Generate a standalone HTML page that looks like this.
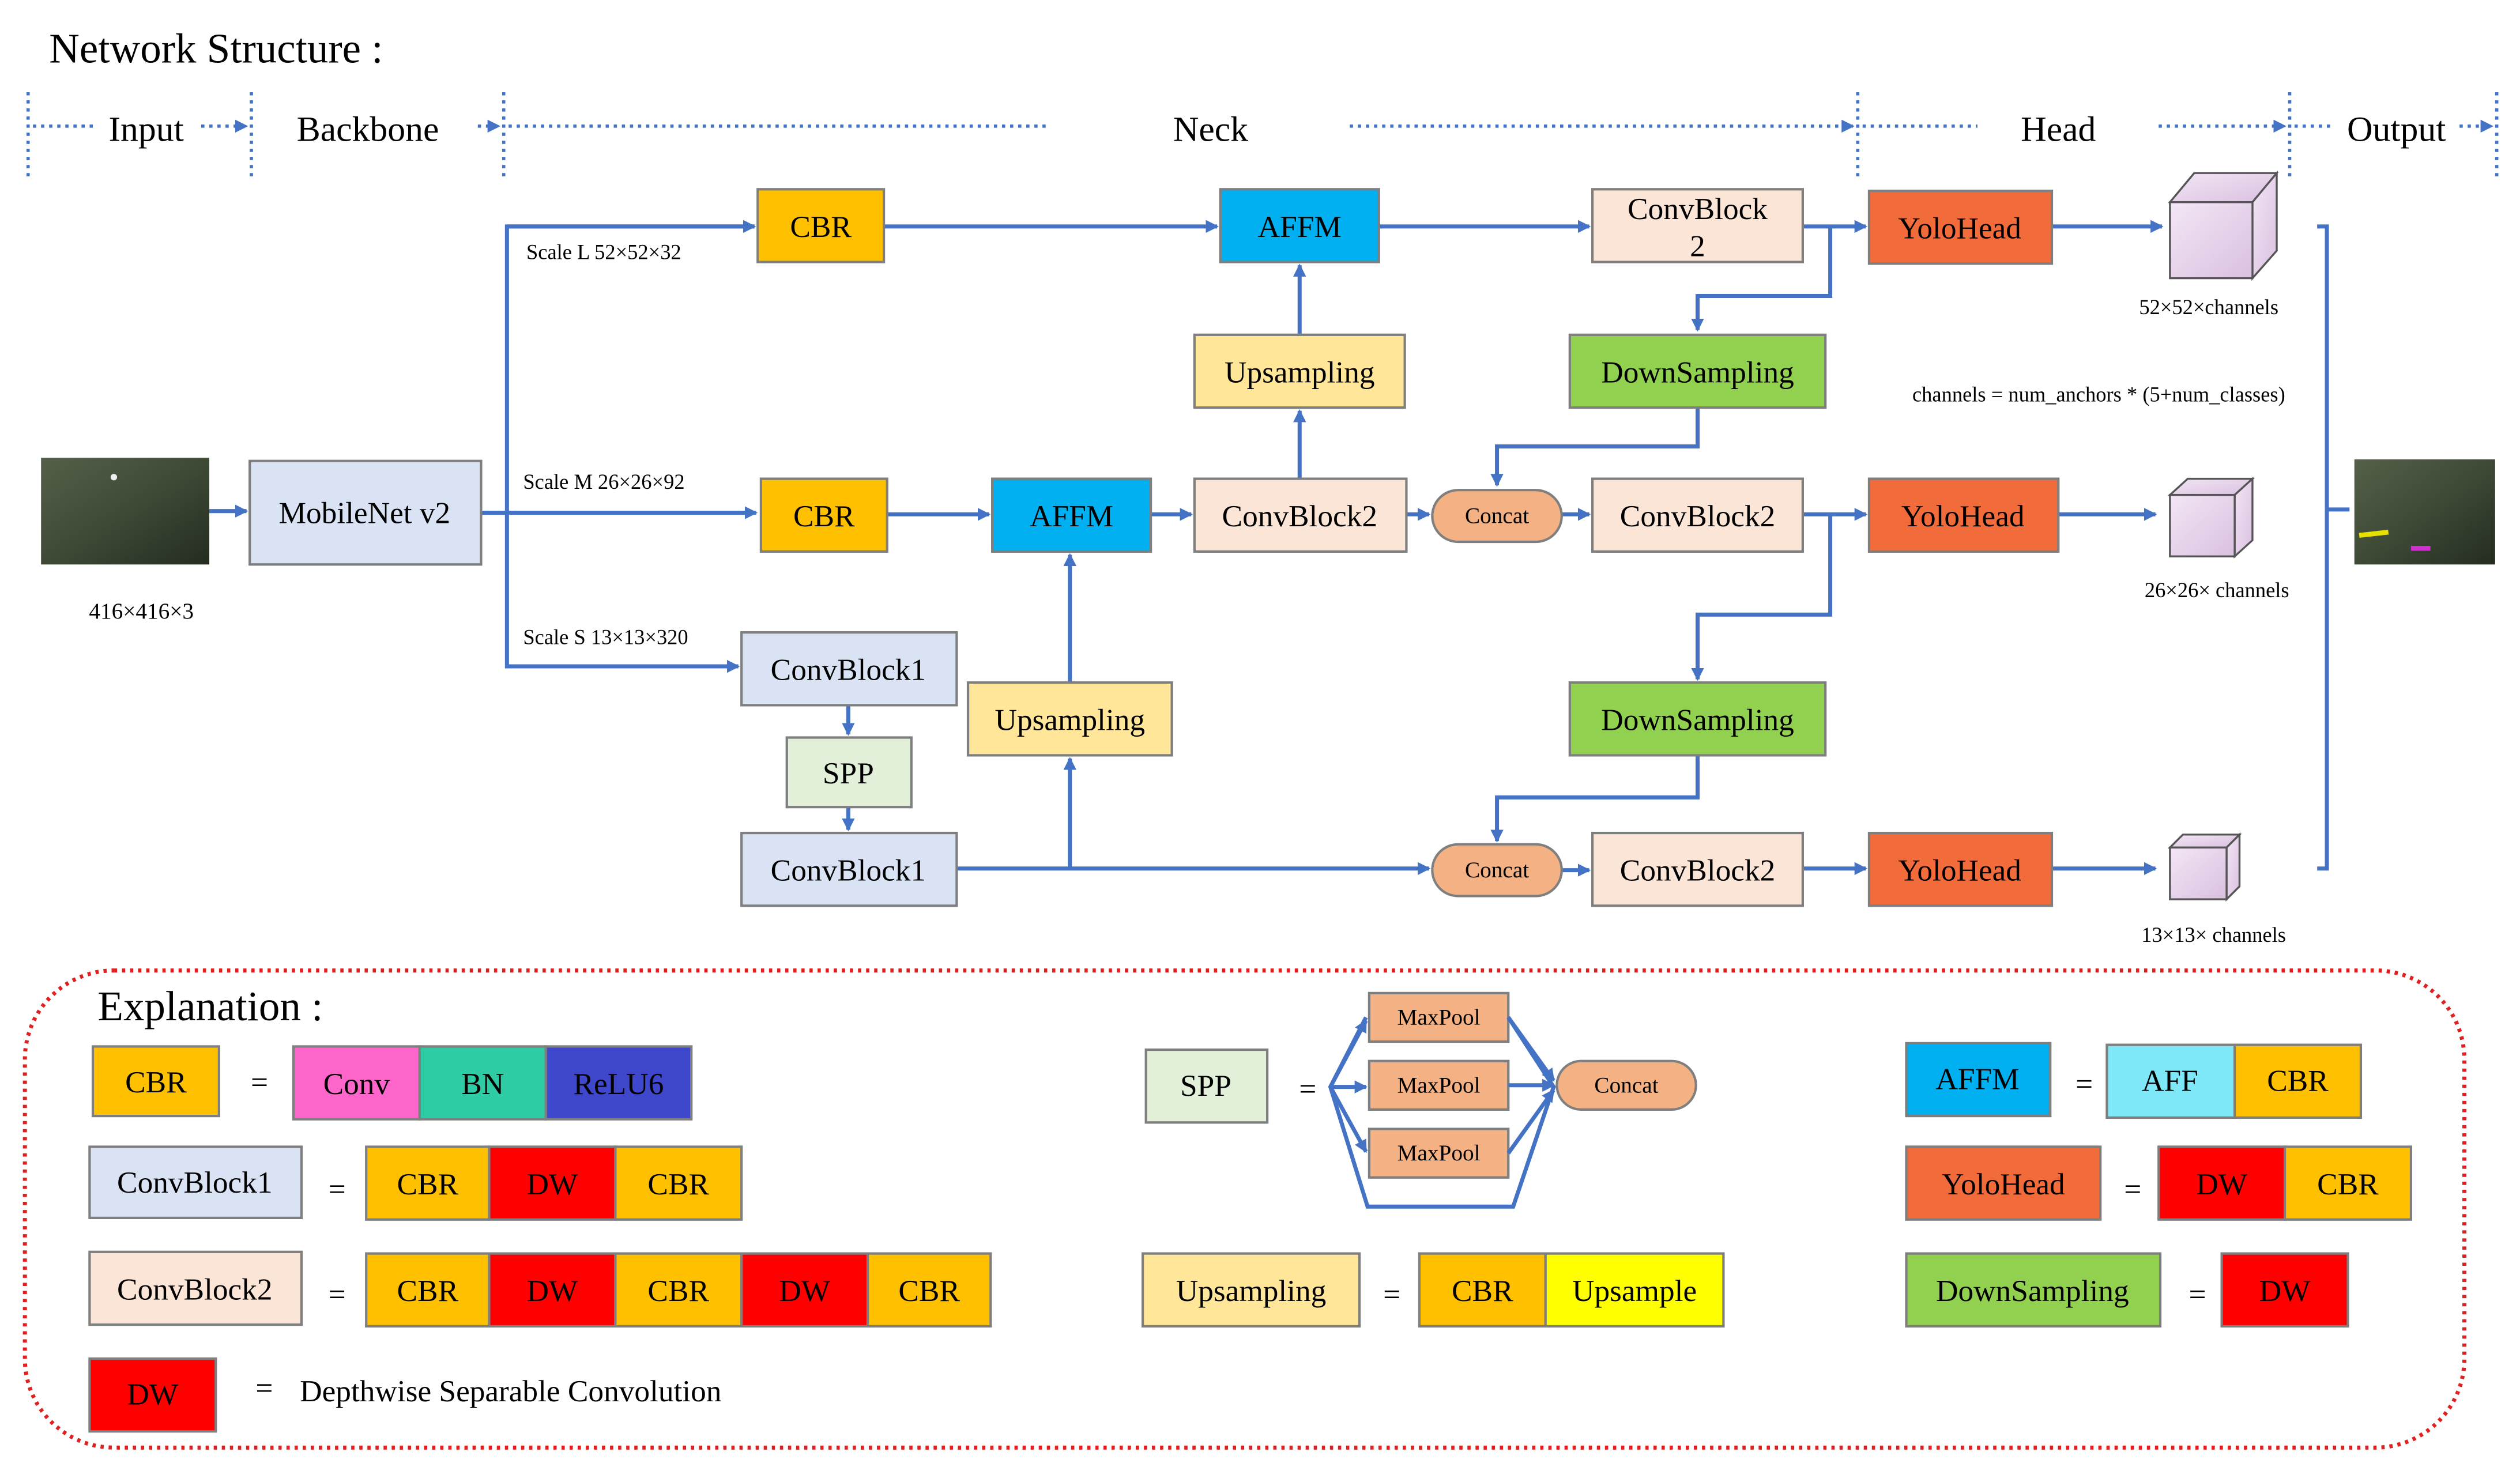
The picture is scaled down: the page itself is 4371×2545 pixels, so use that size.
<!DOCTYPE html>
<html><head><meta charset="utf-8">
<style>
html,body{margin:0;padding:0;background:#fff;}
svg{display:block;}
text{font-family:"Liberation Serif",serif;}
</style></head>
<body>
<svg width="4371" height="2545" viewBox="0 0 1557 907" xmlns="http://www.w3.org/2000/svg">
<defs>
<marker id="a" markerWidth="8" markerHeight="8" refX="7" refY="4" orient="auto" markerUnits="userSpaceOnUse"><path d="M0,0 L8,4 L0,8 z" fill="#4472c4"/></marker>
<linearGradient id="cube" x1="0" y1="0" x2="1" y2="1"><stop offset="0" stop-color="#f3e6f5"/><stop offset="1" stop-color="#d9c0e0"/></linearGradient>
<linearGradient id="img" x1="0" y1="0" x2="1" y2="1"><stop offset="0" stop-color="#55604a"/><stop offset="0.5" stop-color="#3e4a36"/><stop offset="1" stop-color="#242c20"/></linearGradient>
</defs>
<g font-size="19" text-anchor="middle" dominant-baseline="central">
<text x="30" y="30" font-size="26" text-anchor="start">Network Structure :</text>
<g stroke="#4472c4" stroke-width="2" stroke-dasharray="2,3" fill="none">
<line x1="17" y1="57" x2="17" y2="110"/><line x1="155" y1="57" x2="155" y2="110"/>
<line x1="311" y1="57" x2="311" y2="110"/><line x1="1148" y1="57" x2="1148" y2="110"/>
<line x1="1415" y1="57" x2="1415" y2="110"/><line x1="1543" y1="57" x2="1543" y2="110"/>
<line x1="20" y1="78" x2="58" y2="78"/><line x1="124" y1="78" x2="152" y2="78" marker-end="url(#a)"/>
<line x1="295" y1="78" x2="308" y2="78" marker-end="url(#a)"/>
<line x1="314" y1="78" x2="648" y2="78"/><line x1="834" y1="78" x2="1145" y2="78" marker-end="url(#a)"/>
<line x1="1151" y1="78" x2="1222" y2="78"/><line x1="1334" y1="78" x2="1412" y2="78" marker-end="url(#a)"/>
<line x1="1418" y1="78" x2="1442" y2="78"/><line x1="1520" y1="78" x2="1540" y2="78" marker-end="url(#a)"/>
</g>
<text x="90" y="80" font-size="22">Input</text><text x="227" y="80" font-size="22">Backbone</text>
<text x="748" y="80" font-size="22">Neck</text><text x="1272" y="80" font-size="22">Head</text><text x="1481" y="80" font-size="22">Output</text>

<g stroke="#4472c4" stroke-width="2.5" fill="none">
<line x1="129" y1="316" x2="152" y2="316" marker-end="url(#a)"/>
<line x1="297" y1="317" x2="467" y2="317" marker-end="url(#a)"/>
<polyline points="466,140 313,140 313,412 456,412" />
<line x1="313" y1="140" x2="466" y2="140" marker-end="url(#a)"/>
<line x1="313" y1="412" x2="456" y2="412" marker-end="url(#a)"/>
<line x1="546" y1="140" x2="752" y2="140" marker-end="url(#a)"/>
<line x1="852" y1="140" x2="982" y2="140" marker-end="url(#a)"/>
<line x1="803" y1="207" x2="803" y2="164" marker-end="url(#a)"/>
<line x1="803" y1="296" x2="803" y2="254" marker-end="url(#a)"/>
<line x1="548" y1="318" x2="611" y2="318" marker-end="url(#a)"/>
<line x1="711" y1="318" x2="736" y2="318" marker-end="url(#a)"/>
<line x1="869" y1="318" x2="883" y2="318" marker-end="url(#a)"/>
<line x1="965" y1="318" x2="982" y2="318" marker-end="url(#a)"/>
<line x1="661" y1="422" x2="661" y2="343" marker-end="url(#a)"/>
<line x1="524" y1="436" x2="524" y2="454" marker-end="url(#a)"/>
<line x1="524" y1="499" x2="524" y2="513" marker-end="url(#a)"/>
<line x1="591" y1="537" x2="883" y2="537" marker-end="url(#a)"/>
<line x1="661" y1="537" x2="661" y2="469" marker-end="url(#a)"/>
<line x1="965" y1="538" x2="982" y2="538" marker-end="url(#a)"/>
<line x1="1114" y1="140" x2="1153" y2="140" marker-end="url(#a)"/>
<polyline points="1131,140 1131,183 1049,183 1049,204" marker-end="url(#a)"/>
<polyline points="1049,252 1049,276 925,276 925,300" marker-end="url(#a)"/>
<line x1="1114" y1="318" x2="1153" y2="318" marker-end="url(#a)"/>
<polyline points="1131,318 1131,380 1049,380 1049,420" marker-end="url(#a)"/>
<polyline points="1049,467 1049,493 925,493 925,520" marker-end="url(#a)"/>
<line x1="1114" y1="537" x2="1153" y2="537" marker-end="url(#a)"/>
<line x1="1268" y1="140" x2="1336" y2="140" marker-end="url(#a)"/>
<line x1="1272" y1="318" x2="1332" y2="318" marker-end="url(#a)"/>
<line x1="1268" y1="537" x2="1332" y2="537" marker-end="url(#a)"/>
<polyline points="1432,140 1438,140 1438,537 1432,537"/>
<line x1="1438" y1="315" x2="1452" y2="315"/>
</g>

<rect x="25" y="283" width="104" height="66" fill="url(#img)"/>
<circle cx="70" cy="295" r="2" fill="#eee"/>
<rect x="1455" y="284" width="87" height="65" fill="url(#img)"/>
<line x1="1458" y1="331" x2="1476" y2="329" stroke="#e8e000" stroke-width="3"/>
<line x1="1490" y1="339" x2="1502" y2="339" stroke="#d030d0" stroke-width="3"/>
<text x="87" y="378" font-size="14">416×416×3</text>

<g stroke="#7f7f7f" stroke-width="1.5">
<rect x="154" y="285" width="143" height="64" fill="#dae3f3"/>
<rect x="468" y="117" width="78" height="45" fill="#ffc000"/>
<rect x="470" y="296" width="78" height="45" fill="#ffc000"/>
<rect x="458" y="391" width="133" height="45" fill="#dae3f3"/>
<rect x="486" y="456" width="77" height="43" fill="#e2f0d9"/>
<rect x="458" y="515" width="133" height="45" fill="#dae3f3"/>
<rect x="754" y="117" width="98" height="45" fill="#00b0f0"/>
<rect x="613" y="296" width="98" height="45" fill="#00b0f0"/>
<rect x="738" y="207" width="130" height="45" fill="#ffe699"/>
<rect x="598" y="422" width="126" height="45" fill="#ffe699"/>
<rect x="738" y="296" width="131" height="45" fill="#fbe5d6"/>
<rect x="885" y="303" width="80" height="32" rx="16" fill="#f4b183"/>
<rect x="984" y="117" width="130" height="45" fill="#fbe5d6"/>
<rect x="970" y="207" width="158" height="45" fill="#92d050"/>
<rect x="984" y="296" width="130" height="45" fill="#fbe5d6"/>
<rect x="970" y="422" width="158" height="45" fill="#92d050"/>
<rect x="885" y="522" width="80" height="32" rx="16" fill="#f4b183"/>
<rect x="984" y="515" width="130" height="45" fill="#fbe5d6"/>
<rect x="1155" y="118" width="113" height="45" fill="#f26b3a"/>
<rect x="1155" y="296" width="117" height="45" fill="#f26b3a"/>
<rect x="1155" y="515" width="113" height="45" fill="#f26b3a"/>
</g>
<text x="225" y="317">MobileNet v2</text>
<text x="507" y="140">CBR</text><text x="509" y="319">CBR</text>
<text x="524" y="414">ConvBlock1</text><text x="524" y="478">SPP</text><text x="524" y="538">ConvBlock1</text>
<text x="803" y="140">AFFM</text><text x="662" y="319">AFFM</text>
<text x="803" y="230">Upsampling</text><text x="661" y="445">Upsampling</text>
<text x="803" y="319">ConvBlock2</text>
<text x="925" y="319" font-size="14">Concat</text><text x="925" y="538" font-size="14">Concat</text>
<text x="1049" y="129">ConvBlock</text><text x="1049" y="152">2</text>
<text x="1049" y="230">DownSampling</text><text x="1049" y="319">ConvBlock2</text>
<text x="1049" y="445">DownSampling</text><text x="1049" y="538">ConvBlock2</text>
<text x="1211" y="141">YoloHead</text><text x="1213" y="319">YoloHead</text><text x="1211" y="538">YoloHead</text>
<g font-size="13" text-anchor="start">
<text x="325" y="156">Scale L 52×52×32</text>
<text x="323" y="298">Scale M 26×26×92</text>
<text x="323" y="394">Scale S 13×13×320</text>
</g>
<g stroke="#555" stroke-width="1.2" fill="url(#cube)">
<polygon points="1341,125 1356,107 1407,107 1392,125"/><polygon points="1392,125 1407,107 1407,155 1392,172"/>
<rect x="1341" y="125" width="51" height="47"/>
<polygon points="1341,306 1352,296 1392,296 1381,306"/><polygon points="1381,306 1392,296 1392,334 1381,344"/>
<rect x="1341" y="306" width="40" height="38"/>
<polygon points="1341,524 1349,516 1384,516 1376,524"/><polygon points="1376,524 1384,516 1384,548 1376,556"/>
<rect x="1341" y="524" width="35" height="32"/>
</g>
<g font-size="13">
<text x="1365" y="190">52×52×channels</text>
<text x="1297" y="244">channels = num_anchors * (5+num_classes)</text>
<text x="1370" y="365">26×26× channels</text>
<text x="1368" y="578">13×13× channels</text>
</g>

<rect x="15" y="600" width="1508" height="295" rx="55" fill="none" stroke="#e02020" stroke-width="2.5" stroke-dasharray="2,3"/>
<text x="60" y="622" font-size="26" text-anchor="start">Explanation :</text>
<g stroke="#7f7f7f" stroke-width="1.5">
<rect x="57" y="647" width="78" height="43" fill="#ffc000"/>
<rect x="181" y="647" width="78" height="45" fill="#ff66cc"/>
<rect x="259" y="647" width="78" height="45" fill="#2ecba5"/>
<rect x="337" y="647" width="90" height="45" fill="#3f48cc"/>
<rect x="55" y="709" width="131" height="44" fill="#dae3f3"/>
<rect x="226" y="709" width="76" height="45" fill="#ffc000"/>
<rect x="302" y="709" width="78" height="45" fill="#ff0000"/>
<rect x="380" y="709" width="78" height="45" fill="#ffc000"/>
<rect x="55" y="774" width="131" height="45" fill="#fbe5d6"/>
<rect x="226" y="775" width="76" height="45" fill="#ffc000"/>
<rect x="302" y="775" width="78" height="45" fill="#ff0000"/>
<rect x="380" y="775" width="78" height="45" fill="#ffc000"/>
<rect x="458" y="775" width="78" height="45" fill="#ff0000"/>
<rect x="536" y="775" width="76" height="45" fill="#ffc000"/>
<rect x="55" y="840" width="78" height="45" fill="#ff0000"/>
<rect x="708" y="649" width="75" height="45" fill="#e2f0d9"/>
<rect x="846" y="614" width="86" height="30" fill="#f4b183"/>
<rect x="846" y="656" width="86" height="30" fill="#f4b183"/>
<rect x="846" y="698" width="86" height="30" fill="#f4b183"/>
<rect x="962" y="656" width="86" height="30" rx="15" fill="#f4b183"/>
<rect x="706" y="775" width="134" height="45" fill="#ffe699"/>
<rect x="877" y="775" width="78" height="45" fill="#ffc000"/>
<rect x="955" y="775" width="110" height="45" fill="#ffff00"/>
<rect x="1178" y="645" width="89" height="45" fill="#00b0f0"/>
<rect x="1302" y="646" width="79" height="45" fill="#7ee8f8"/>
<rect x="1381" y="646" width="78" height="45" fill="#ffc000"/>
<rect x="1178" y="709" width="120" height="45" fill="#f26b3a"/>
<rect x="1334" y="709" width="78" height="45" fill="#ff0000"/>
<rect x="1412" y="709" width="78" height="45" fill="#ffc000"/>
<rect x="1178" y="775" width="157" height="45" fill="#92d050"/>
<rect x="1373" y="775" width="78" height="45" fill="#ff0000"/>
</g>
<g stroke="#4472c4" stroke-width="2.5" fill="none">
<polyline points="844,629 822,672 845,746 935,746 960,672 932,629"/>
<line x1="822" y1="672" x2="844" y2="631" marker-end="url(#a)"/>
<line x1="822" y1="672" x2="844" y2="672" marker-end="url(#a)"/>
<line x1="822" y1="672" x2="844" y2="712" marker-end="url(#a)"/>
<line x1="932" y1="629" x2="960" y2="668" marker-end="url(#a)"/>
<line x1="932" y1="671" x2="960" y2="671" marker-end="url(#a)"/>
<line x1="932" y1="713" x2="960" y2="674" marker-end="url(#a)"/>
</g>
<text x="96" y="669">CBR</text><text x="160" y="669">=</text>
<text x="220" y="670">Conv</text><text x="298" y="670">BN</text><text x="382" y="670">ReLU6</text>
<text x="120" y="731">ConvBlock1</text><text x="208" y="735">=</text>
<text x="264" y="732">CBR</text><text x="341" y="732">DW</text><text x="419" y="732">CBR</text>
<text x="120" y="797">ConvBlock2</text><text x="208" y="800">=</text>
<text x="264" y="798">CBR</text><text x="341" y="798">DW</text><text x="419" y="798">CBR</text><text x="497" y="798">DW</text><text x="574" y="798">CBR</text>
<text x="94" y="862">DW</text><text x="163" y="858">=</text>
<text x="185" y="860" text-anchor="start">Depthwise Separable Convolution</text>
<text x="745" y="671">SPP</text><text x="808" y="673">=</text>
<text x="889" y="629" font-size="14">MaxPool</text><text x="889" y="671" font-size="14">MaxPool</text><text x="889" y="713" font-size="14">MaxPool</text>
<text x="1005" y="671" font-size="14">Concat</text>
<text x="773" y="798">Upsampling</text><text x="860" y="800">=</text>
<text x="916" y="798">CBR</text><text x="1010" y="798">Upsample</text>
<text x="1222" y="667">AFFM</text><text x="1288" y="670">=</text>
<text x="1341" y="668">AFF</text><text x="1420" y="668">CBR</text>
<text x="1238" y="732">YoloHead</text><text x="1318" y="735">=</text>
<text x="1373" y="732">DW</text><text x="1451" y="732">CBR</text>
<text x="1256" y="798">DownSampling</text><text x="1358" y="800">=</text>
<text x="1412" y="798">DW</text>
</g>
</svg>
</body></html>
